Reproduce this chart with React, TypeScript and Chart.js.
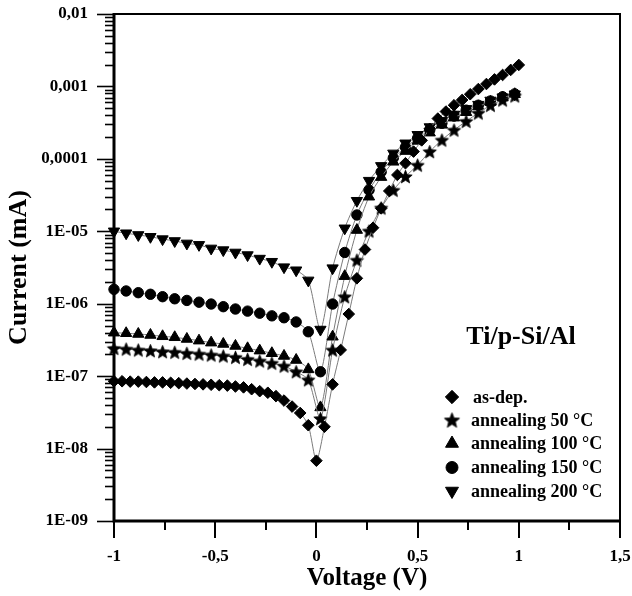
import React, { useEffect, useRef } from 'react';
import { Chart, registerables } from 'chart.js';
import { drawPoint } from 'chart.js/helpers';

Chart.register(...registerables);

const FONT = "'Liberation Serif', 'Times New Roman', serif";

// ---------- data ----------
const voltageAsDep = [
  -1, -0.96, -0.92, -0.88, -0.84, -0.8, -0.76, -0.72, -0.68, -0.64, -0.6, -0.56, -0.52,
  -0.48, -0.44, -0.4, -0.36, -0.32, -0.28, -0.24, -0.2, -0.16, -0.12, -0.08, -0.04, 0,
  0.04, 0.08, 0.12, 0.16, 0.2, 0.24, 0.28, 0.32, 0.36, 0.4, 0.44, 0.48, 0.52, 0.56, 0.6,
  0.64, 0.68, 0.72, 0.76, 0.8, 0.84, 0.88, 0.92, 0.96, 1,
];
const voltageAnneal = [
  -1, -0.94, -0.88, -0.82, -0.76, -0.7, -0.64, -0.58, -0.52, -0.46, -0.4, -0.34, -0.28,
  -0.22, -0.16, -0.1, -0.04, 0.02, 0.08, 0.14, 0.2, 0.26, 0.32, 0.38, 0.44, 0.5, 0.56,
  0.62, 0.68, 0.74, 0.8, 0.86, 0.92, 0.98,
];

const currentAsDep = [
  8.5e-8, 8.5e-8, 8.4e-8, 8.4e-8, 8.3e-8, 8.2e-8, 8.2e-8, 8.1e-8, 8.0e-8, 7.9e-8, 7.8e-8,
  7.7e-8, 7.6e-8, 7.5e-8, 7.4e-8, 7.2e-8, 7.0e-8, 6.6e-8, 6.2e-8, 5.9e-8, 5.3e-8, 4.6e-8,
  3.8e-8, 3.1e-8, 2.1e-8, 6.8e-9,
  2.0e-8, 7.7e-8, 2.3e-7, 7.2e-7, 2.24e-6, 5.6e-6, 1.12e-5, 2.07e-5, 3.6e-5, 6.0e-5,
  8.7e-5, 1.26e-4, 1.8e-4, 2.6e-4, 3.6e-4, 4.5e-4, 5.5e-4, 6.5e-4, 7.8e-4, 9.2e-4,
  1.08e-3, 1.25e-3, 1.44e-3, 1.69e-3, 1.98e-3,
];
const current50C = [
  2.42e-7, 2.37e-7, 2.30e-7, 2.25e-7, 2.18e-7, 2.14e-7, 2.07e-7, 2.02e-7, 1.96e-7, 1.90e-7,
  1.82e-7, 1.71e-7, 1.62e-7, 1.51e-7, 1.38e-7, 1.15e-7, 8.9e-8,
  2.6e-8, 2.3e-7, 1.25e-6, 4.0e-6, 1.01e-5, 2.1e-5, 3.7e-5, 5.7e-5, 8.2e-5, 1.26e-4,
  1.82e-4, 2.5e-4, 3.3e-4, 4.3e-4, 5.5e-4, 6.5e-4, 7.4e-4,
];
const current100C = [
  3.98e-7, 3.91e-7, 3.82e-7, 3.70e-7, 3.55e-7, 3.44e-7, 3.26e-7, 3.09e-7, 2.90e-7, 2.78e-7,
  2.61e-7, 2.42e-7, 2.25e-7, 2.07e-7, 1.90e-7, 1.67e-7, 1.24e-7,
  3.7e-8, 3.5e-7, 2.4e-6, 1.04e-5, 3.0e-5, 5.6e-5, 9.1e-5, 1.28e-4, 1.77e-4, 2.3e-4,
  2.95e-4, 3.7e-4, 4.4e-4, 5.3e-4, 6.1e-4, 7.0e-4, 7.8e-4,
];
const current150C = [
  1.58e-6, 1.50e-6, 1.42e-6, 1.35e-6, 1.25e-6, 1.17e-6, 1.11e-6, 1.05e-6, 9.9e-7, 9.1e-7,
  8.45e-7, 7.9e-7, 7.4e-7, 6.8e-7, 6.4e-7, 5.6e-7, 4.1e-7,
  1.15e-7, 9.9e-7, 5.1e-6, 1.68e-5, 3.7e-5, 6.6e-5, 1.03e-4, 1.45e-4, 1.93e-4, 2.5e-4,
  3.1e-4, 3.9e-4, 4.7e-4, 5.5e-4, 6.3e-4, 7.2e-4, 7.9e-4,
];
const current200C = [
  1.0e-5, 9.4e-6, 8.9e-6, 8.4e-6, 7.8e-6, 7.35e-6, 6.8e-6, 6.5e-6, 5.8e-6, 5.5e-6, 5.1e-6,
  4.7e-6, 4.2e-6, 3.8e-6, 3.2e-6, 2.9e-6, 2.1e-6,
  4.4e-7, 3.1e-6, 1.1e-5, 2.64e-5, 5.0e-5, 8.0e-5, 1.19e-4, 1.64e-4, 2.15e-4, 2.75e-4,
  3.35e-4, 4.1e-4, 4.9e-4, 5.6e-4, 6.4e-4, 7.1e-4, 7.8e-4,
];

const seriesLabels = [
  'as-dep.',
  'annealing 50 °C',
  'annealing 100 °C',
  'annealing 150 °C',
  'annealing 200 °C',
];
const sampleName = 'Ti/p-Si/Al';

const yTickValues = [1e-9, 1e-8, 1e-7, 1e-6, 1e-5, 1e-4, 1e-3, 1e-2];
const yTickLabels = ['1E-09', '1E-08', '1E-07', '1E-06', '1E-05', '0,0001', '0,001', '0,01'];
const xTickValues = [-1, -0.5, 0, 0.5, 1, 1.5];
const xTickLabels = ['-1', '-0,5', '0', '0,5', '1', '1,5'];
const xTitle = 'Voltage (V)';
const yTitle = 'Current (mA)';

// ---------- helpers ----------
function makeStar(size: number, outer: number, inner: number): HTMLCanvasElement {
  const c = document.createElement('canvas');
  c.width = size;
  c.height = size;
  const g = c.getContext('2d')!;
  g.fillStyle = '#000';
  g.strokeStyle = '#000';
  g.lineWidth = 0.8;
  g.beginPath();
  const cx = size / 2;
  const cy = size / 2 + outer * 0.1;
  for (let i = 0; i < 10; i++) {
    const r = i % 2 === 0 ? outer : inner;
    const a = -Math.PI / 2 + (i * Math.PI) / 5;
    const px = cx + r * Math.cos(a);
    const py = cy + r * Math.sin(a);
    if (i === 0) g.moveTo(px, py);
    else g.lineTo(px, py);
  }
  g.closePath();
  g.fill();
  g.stroke();
  return c;
}

const isPow10 = (v: number) => {
  const l = Math.log10(v);
  return Math.abs(l - Math.round(l)) < 1e-6;
};

export default function App() {
  const ref = useRef<HTMLCanvasElement>(null);

  useEffect(() => {
    if (!ref.current) return;
    const star = makeStar(17, 7, 3.1);
    const starLegend = makeStar(19, 8, 3.5);
    const styles: any[] = [
      { pointStyle: 'rectRot', radius: 5.8, rotation: 0 },
      { pointStyle: star, radius: 6, rotation: 0 },
      { pointStyle: 'triangle', radius: 6.5, rotation: 0 },
      { pointStyle: 'circle', radius: 5.2, rotation: 0 },
      { pointStyle: 'triangle', radius: 6.5, rotation: 180 },
    ];
    const series = [
      { x: voltageAsDep, y: currentAsDep },
      { x: voltageAnneal, y: current50C },
      { x: voltageAnneal, y: current100C },
      { x: voltageAnneal, y: current150C },
      { x: voltageAnneal, y: current200C },
    ];
    const datasets = series.map((s, i) => ({
      label: seriesLabels[i],
      data: s.x.map((v, j) => ({ x: v, y: s.y[j] })),
      borderColor: '#7a7a7a',
      borderWidth: 1,
      backgroundColor: '#000',
      pointBackgroundColor: '#000',
      pointBorderColor: '#000',
      pointBorderWidth: 1,
      pointStyle: styles[i].pointStyle,
      pointRadius: styles[i].radius,
      pointRotation: styles[i].rotation,
      tension: 0.25,
      fill: false,
      clip: false as any,
    }));

    const framePlugin = {
      id: 'frameTicks',
      afterDraw(chart: any) {
        const { ctx, chartArea: a, scales } = chart;
        const xs = scales.x;
        const ys = scales.y;
        ctx.save();
        ctx.strokeStyle = '#000';
        ctx.lineWidth = 1.6;
        ys.ticks.forEach((t: any) => {
          const py = Math.round(ys.getPixelForValue(t.value)) + 0.5;
          const len = isPow10(t.value) ? 17 : 9;
          ctx.beginPath();
          ctx.moveTo(a.left - len, py);
          ctx.lineTo(a.left, py);
          ctx.stroke();
        });
        ctx.lineWidth = 2;
        xs.ticks.forEach((t: any) => {
          const px = Math.round(xs.getPixelForValue(t.value));
          const major = xTickValues.some((v) => Math.abs(v - t.value) < 1e-9);
          const len = major ? 17 : 9;
          ctx.beginPath();
          ctx.moveTo(px, a.bottom);
          ctx.lineTo(px, a.bottom + len);
          ctx.stroke();
        });
        ctx.lineWidth = 2;
        ctx.beginPath();
        ctx.moveTo(a.left, a.top);
        ctx.lineTo(a.right, a.top);
        ctx.lineTo(a.right, a.bottom);
        ctx.stroke();
        ctx.lineWidth = 3;
        ctx.beginPath();
        ctx.moveTo(a.left, a.top - 1);
        ctx.lineTo(a.left, a.bottom);
        ctx.lineTo(a.right + 1, a.bottom);
        ctx.stroke();
        ctx.restore();
      },
    };

    const legendPlugin = {
      id: 'insideLegend',
      afterDraw(chart: any) {
        const { ctx } = chart;
        ctx.save();
        ctx.fillStyle = '#000';
        ctx.strokeStyle = '#000';
        ctx.font = `bold 26px ${FONT}`;
        ctx.textAlign = 'center';
        ctx.textBaseline = 'alphabetic';
        ctx.fillText(sampleName, 521, 344);
        ctx.font = `bold 18px ${FONT}`;
        ctx.textAlign = 'left';
        ctx.textBaseline = 'middle';
        const rowY = [397, 420, 443.5, 467.5, 491];
        seriesLabels.forEach((lab, i) => {
          ctx.fillStyle = '#000';
          ctx.strokeStyle = '#000';
          drawPoint(
            ctx,
            {
              pointStyle: i === 1 ? starLegend : styles[i].pointStyle,
              rotation: styles[i].rotation,
              radius: styles[i].radius * 1.15,
              borderWidth: 1,
            } as any,
            452,
            rowY[i]
          );
          ctx.fillStyle = '#000';
          ctx.fillText(lab, i === 0 ? 473 : 471, rowY[i] + 1);
        });
        ctx.restore();
      },
    };

    const chart = new Chart(ref.current, {
      type: 'line',
      data: { datasets: datasets as any },
      options: {
        animation: false,
        responsive: false,
        maintainAspectRatio: false,
        layout: { padding: { top: 14, right: 12, left: 0, bottom: 0 } },
        plugins: {
          legend: { display: false },
          tooltip: { enabled: false },
        },
        scales: {
          x: {
            type: 'linear',
            min: -1,
            max: 1.5,
            grid: { display: false, drawTicks: false },
            border: { display: false },
            ticks: {
              stepSize: 0.25,
              autoSkip: false,
              maxRotation: 0,
              padding: 25,
              color: '#000',
              font: { family: FONT, size: 17, weight: 'bold' },
              callback: (v: any) => {
                const i = xTickValues.findIndex((t) => Math.abs(t - Number(v)) < 1e-9);
                return i >= 0 ? xTickLabels[i] : '';
              },
            },
            title: {
              display: true,
              text: xTitle,
              color: '#000',
              font: { family: FONT, size: 25, weight: 'bold' },
              padding: { top: 0, bottom: 2 },
            },
            afterFit: (s: any) => {
              s.height = 75;
              s.paddingLeft = 0;
              s.paddingRight = 0;
              s.paddingTop = 0;
              s.paddingBottom = 0;
            },
          },
          y: {
            type: 'logarithmic',
            min: 1e-9,
            max: 1e-2,
            grid: { display: false, drawTicks: false },
            border: { display: false },
            afterBuildTicks: (s: any) => {
              const ticks: any[] = [];
              for (let d = 0; d < yTickValues.length - 1; d++) {
                for (let m = 1; m <= 9; m++) ticks.push({ value: m * yTickValues[d] });
              }
              ticks.push({ value: yTickValues[yTickValues.length - 1] });
              s.ticks = ticks;
            },
            ticks: {
              autoSkip: false,
              padding: 26,
              color: '#000',
              font: { family: FONT, size: 17, weight: 'bold' },
              callback: (v: any) => {
                const n = Number(v);
                if (!isPow10(n)) return '';
                const i = yTickValues.findIndex((t) => Math.abs(Math.log10(t) - Math.log10(n)) < 1e-6);
                return i >= 0 ? yTickLabels[i] : '';
              },
            },
            title: {
              display: true,
              text: yTitle,
              color: '#000',
              font: { family: FONT, size: 26, weight: 'bold' },
              padding: { top: 4, bottom: 0 },
            },
            afterFit: (s: any) => {
              s.width = 114;
              s.paddingLeft = 0;
              s.paddingRight = 0;
              s.paddingTop = 0;
              s.paddingBottom = 0;
            },
          },
        },
      },
      plugins: [framePlugin, legendPlugin],
    });
    return () => chart.destroy();
  }, []);

  return (
    <div style={{ position: 'fixed', left: 0, top: 0, width: 632, height: 596, background: '#fff' }}>
      <canvas ref={ref} width={632} height={596} style={{ width: 632, height: 596, display: 'block' }} />
    </div>
  );
}
